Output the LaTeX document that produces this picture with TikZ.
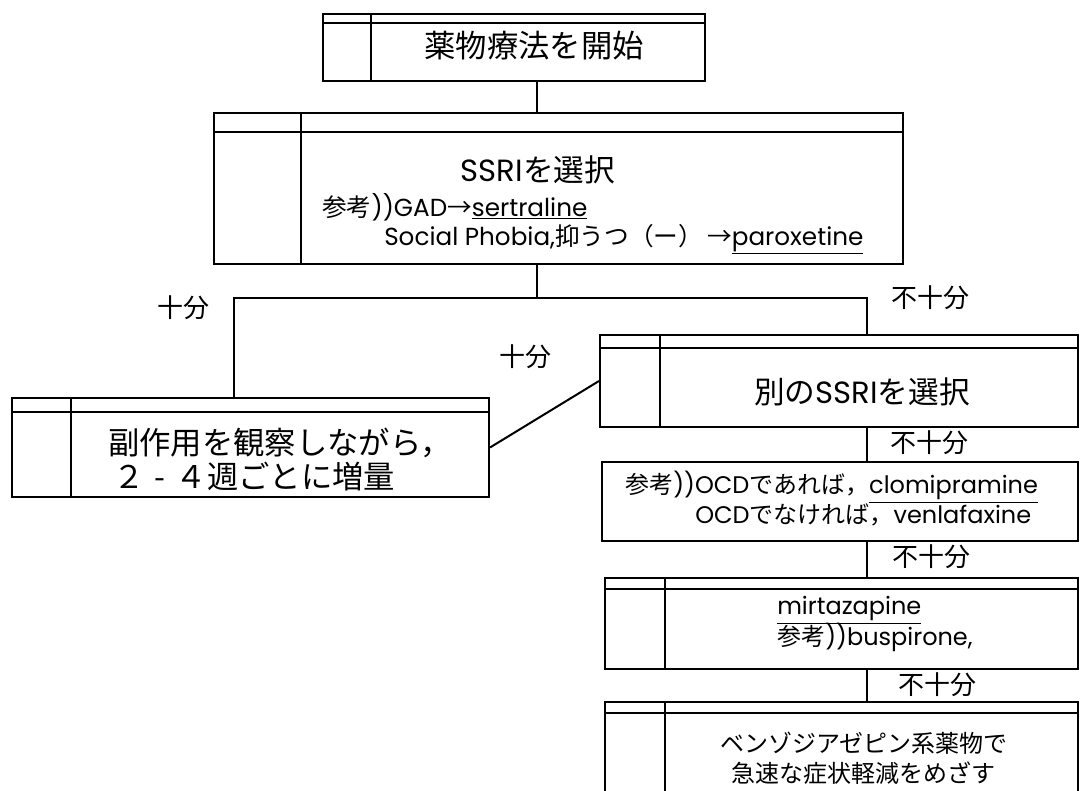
\documentclass[tikz,border=0pt]{standalone}
\usepackage{fontspec}
\setmainfont{Noto Sans CJK JP}
\newfontfamily\lat{Poppins}
\usetikzlibrary{fit}
\newcommand\jbox[7]{%
  \node[outerbox, fit={(#2,#3) (#4,#5)}] (#1) {};
  \draw[innerline] (#2,#7) -- (#4,#7);
  \draw[innerline] (#6,#3) -- (#6,#5);}
\begin{document}
\begin{tikzpicture}[x=0.75pt,y=-0.75pt,
  outerbox/.style={draw, line width=1.5pt, inner sep=0pt},
  innerline/.style={line width=1.1pt},
  conn/.style={line width=1.5pt},
  lbl/.style={font=\fontsize{19.5}{22}\selectfont, inner sep=0pt},
  big/.style={font=\fontsize{23.5}{27}\selectfont, inner sep=0pt},
  small/.style={font=\fontsize{18.5}{21}\selectfont, inner sep=0pt},
  mid/.style={font=\fontsize{18}{21}\selectfont, inner sep=0pt}]
\clip (0,0) rectangle (1083,790);
\fill[white] (0,0) rectangle (1083,790);
% boxes
\jbox{b1}{323}{14}{705}{81}{371}{23}
\jbox{b2}{214}{113}{903}{264}{301}{132}
\jbox{b3}{12}{398}{489}{497}{71}{412}
\jbox{b4}{600}{335}{1078}{427}{660}{348}
\node[outerbox, fit={(602,462) (1078,541)}] (b5) {};
\jbox{b6}{605}{578}{1078}{669}{665}{589}
\jbox{b7}{605}{702}{1078}{810}{665}{713}
% texts
\node[big] (t1) at (534,46) {薬物療法を開始};
\node[big, font=\fontsize{23}{26}\selectfont] (t2) at (538,170) {{\lat SSRI}を選択};
\node[small, anchor=west] (t2a) at (322,207) {参考{\lat))GAD}→{\lat\underline{sertraline}}};
\node[small, anchor=west] (t2b) at (384,239) {{\lat Social Phobia,}抑うつ（ー）\,→{\lat\underline{paroxetine}}};
\node[big, anchor=west] (t3a) at (108,443) {副作用を観察しながら，};
\node[big, anchor=west] (t3b) at (113,477) {２\hbox to 1em{\hss-\hss}４週ごとに増量};
\node[big, font=\fontsize{23}{26}\selectfont] (t4) at (862,392) {別の{\lat SSRI}を選択};
\node[mid, anchor=west] (t5a) at (625,487) {参考{\lat))OCD}であれば，{\lat\underline{clomipramine}}};
\node[mid, anchor=west] (t5b) at (695,515) {{\lat OCD}でなければ，{\lat venlafaxine}};
\node[mid, anchor=west] (t6a) at (777,610) {\lat\underline{mirtazapine}};
\node[mid, anchor=west] (t6b) at (777,637) {参考{\lat))buspirone,}};
\node[mid] (t7a) at (864,743) {ベンゾジアゼピン系薬物で};
\node[mid] (t7b) at (863,773) {急速な症状軽減をめざす};
% labels
\node[lbl] (l1) at (183,308) {十分};
\node[lbl] (l2) at (930,298) {不十分};
\node[lbl] (l3) at (525,357) {十分};
\node[lbl] (l4) at (929,443) {不十分};
\node[lbl] (l5) at (931,557) {不十分};
\node[lbl] (l6) at (937,685) {不十分};
% connectors
\coordinate (cx) at (537,0);
\coordinate (lx) at (234,298);
\coordinate (rx) at (867,298);
\draw[conn] (b1.south -| cx) -- (b2.north -| cx);
\draw[conn] (b2.south -| cx) -- (cx |- lx);
\draw[conn] (b3.north -| lx) -- (lx) -- (rx) -- (b4.north -| rx);
\draw[conn] (b3.east) -- (b4.west);
\draw[conn] (b4.south -| rx) -- (b5.north -| rx);
\draw[conn] (b5.south -| rx) -- (b6.north -| rx);
\draw[conn] (b6.south -| rx) -- (b7.north -| rx);
\end{tikzpicture}
\end{document}
